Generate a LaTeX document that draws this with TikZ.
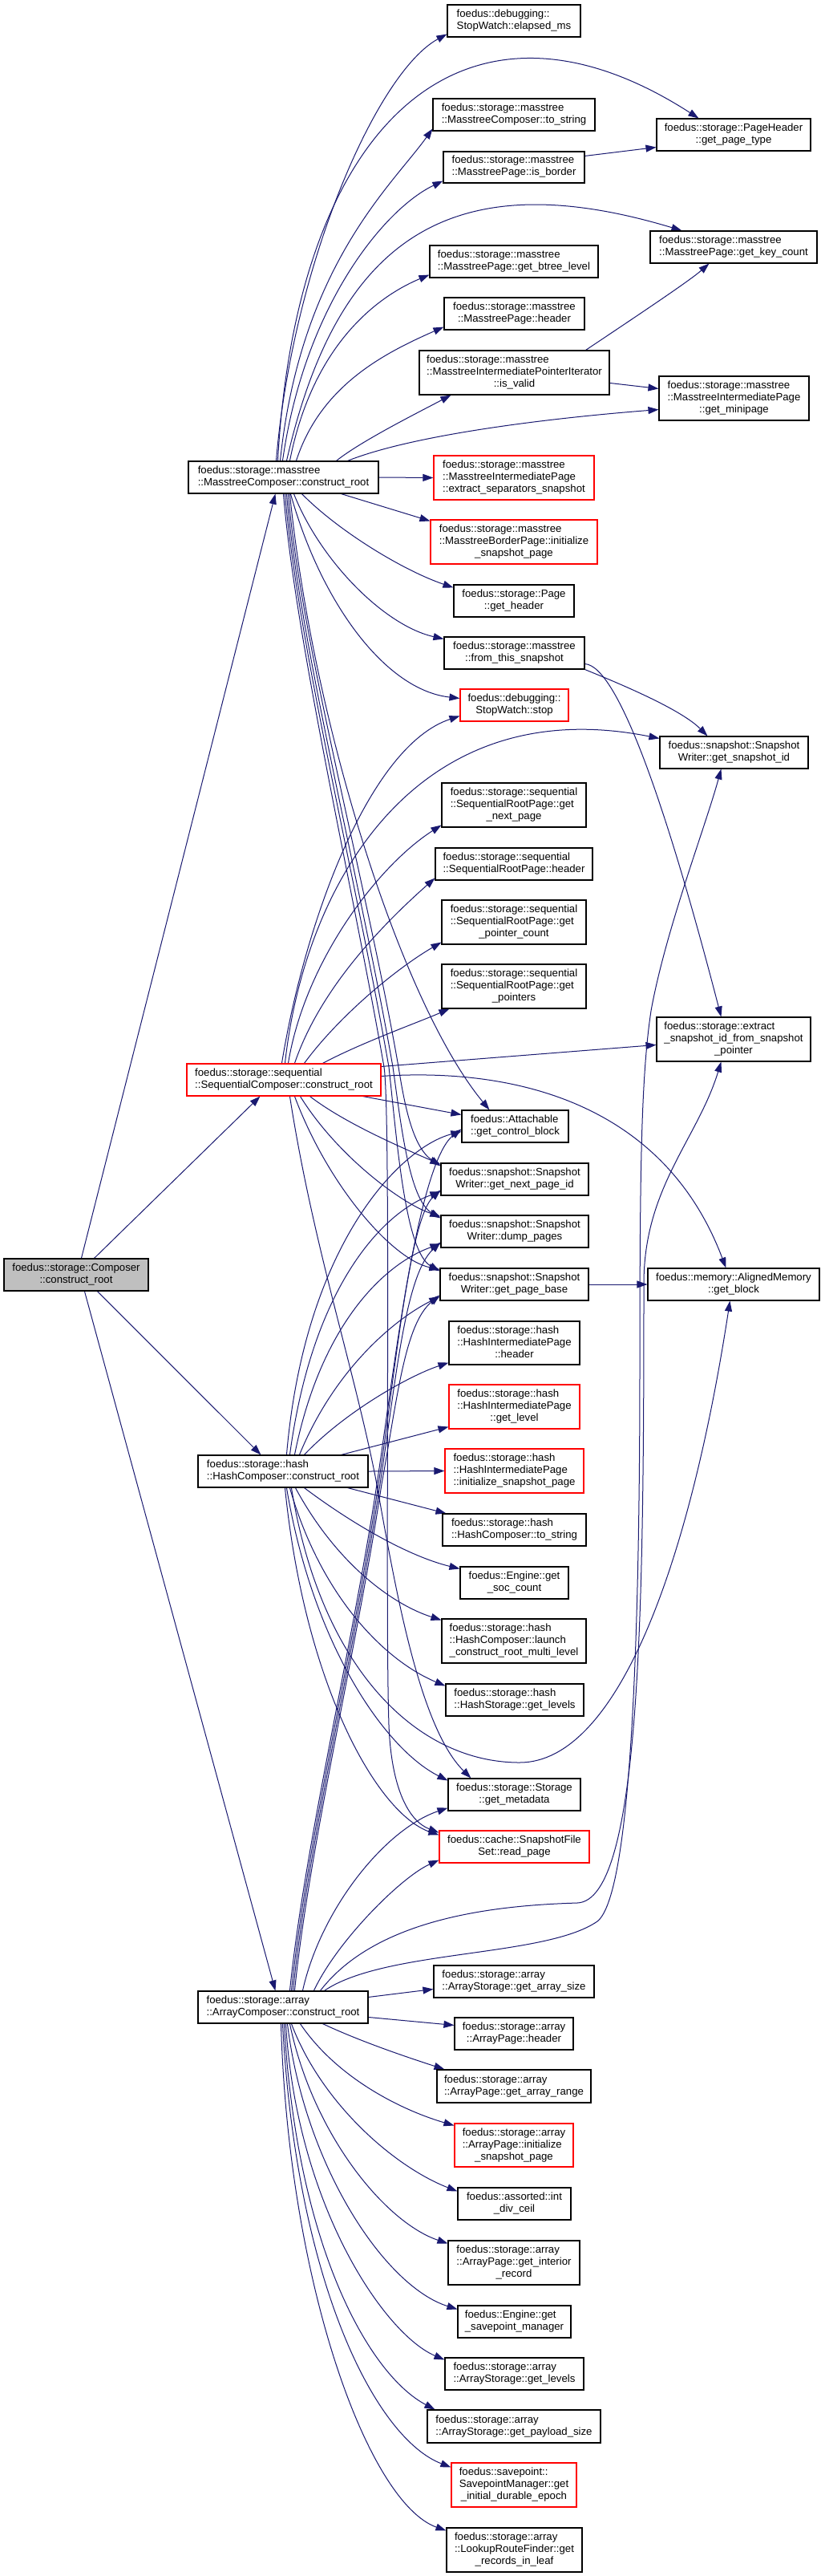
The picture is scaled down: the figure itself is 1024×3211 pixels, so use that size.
\documentclass[tikz,border=0pt]{standalone}
\usepackage{fontspec}
\setmainfont{Liberation Sans}
\usetikzlibrary{arrows.meta}
\definecolor{edgec}{RGB}{25,25,112}
\definecolor{nodered}{RGB}{255,0,0}
\definecolor{compfill}{RGB}{191,191,191}
\pgfdeclarelayer{bg}
\pgfsetlayers{bg,main}
\newcommand\twol[2]{\begin{tabular}{@{}l@{}}#1\\\multicolumn{1}{@{}c@{}}{#2}\end{tabular}}
\newcommand\thrl[3]{\begin{tabular}{@{}l@{}}#1\\#2\\\multicolumn{1}{@{}c@{}}{#3}\end{tabular}}
\newcommand\fnode[7]{\node[#6, minimum width={(#4)-(#2)}, minimum height={(#5)-(#3)}] (#1) at ({((#2)+(#4))/2},{((#3)+(#5))/2}) {#7};}
\tikzset{
 nbox/.style={draw=black, fill=white, line width=1.1pt, inner sep=0pt, font=\fontsize{13.2}{15}\selectfont},
 rbox/.style={nbox, draw=nodered},
 gbox/.style={nbox, fill=compfill},
 edge/.style={draw=edgec, line width=1pt, -{Triangle[length=13pt,width=9pt]}},
}
\begin{document}
\begin{tikzpicture}[x=1pt,y=-1pt]
\useasboundingbox (0,0) rectangle (1024,3211);
\begin{pgfonlayer}{bg}
\fill[white] (0,0) rectangle (1024,3211);
\end{pgfonlayer}
% nodes
\fnode{E}{558}{6}{724}{46}{nbox}{\twol{foedus::debugging::}{StopWatch::elapsed\_ms}}
\fnode{T}{540}{123}{742}{163}{nbox}{\twol{foedus::storage::masstree}{::MasstreeComposer::to\_string}}
\fnode{PH}{819}{148}{1011}{188}{nbox}{\twol{foedus::storage::PageHeader}{::get\_page\_type}}
\fnode{B}{553}{189}{729}{228}{nbox}{\twol{foedus::storage::masstree}{::MasstreePage::is\_border}}
\fnode{KC}{811}{288}{1019}{328}{nbox}{\twol{foedus::storage::masstree}{::MasstreePage::get\_key\_count}}
\fnode{BL}{536}{306}{746}{346}{nbox}{\twol{foedus::storage::masstree}{::MasstreePage::get\_btree\_level}}
\fnode{MH}{554}{371}{729}{411}{nbox}{\twol{foedus::storage::masstree}{::MasstreePage::header}}
\fnode{V}{523}{437}{760}{492}{nbox}{\thrl{foedus::storage::masstree}{::MasstreeIntermediatePointerIterator}{::is\_valid}}
\fnode{MP}{822}{469}{1009}{524}{nbox}{\thrl{foedus::storage::masstree}{::MasstreeIntermediatePage}{::get\_minipage}}
\fnode{M}{235}{575}{472}{615}{nbox}{\twol{foedus::storage::masstree}{::MasstreeComposer::construct\_root}}
\fnode{XS}{541}{568}{741}{623}{rbox}{\thrl{foedus::storage::masstree}{::MasstreeIntermediatePage}{::extract\_separators\_snapshot}}
\fnode{IB}{537}{648}{745}{703}{rbox}{\thrl{foedus::storage::masstree}{::MasstreeBorderPage::initialize}{\_snapshot\_page}}
\fnode{GH}{566}{729}{716}{769}{nbox}{\twol{foedus::storage::Page}{::get\_header}}
\fnode{FS}{554}{794}{729}{834}{nbox}{\twol{foedus::storage::masstree}{::from\_this\_snapshot}}
\fnode{SW}{574}{859}{709}{899}{rbox}{\twol{foedus::debugging::}{StopWatch::stop}}
\fnode{SI}{823}{918}{1008}{958}{nbox}{\twol{foedus::snapshot::Snapshot}{Writer::get\_snapshot\_id}}
\fnode{SN}{551}{976}{731}{1031}{nbox}{\thrl{foedus::storage::sequential}{::SequentialRootPage::get}{\_next\_page}}
\fnode{SH}{543}{1057}{739}{1097}{nbox}{\twol{foedus::storage::sequential}{::SequentialRootPage::header}}
\fnode{PC}{551}{1122}{731}{1177}{nbox}{\thrl{foedus::storage::sequential}{::SequentialRootPage::get}{\_pointer\_count}}
\fnode{PT}{551}{1202}{731}{1257}{nbox}{\thrl{foedus::storage::sequential}{::SequentialRootPage::get}{\_pointers}}
\fnode{XI}{819}{1268}{1011}{1323}{nbox}{\thrl{foedus::storage::extract}{\_snapshot\_id\_from\_snapshot}{\_pointer}}
\fnode{S}{233}{1326}{475}{1366}{rbox}{\twol{foedus::storage::sequential}{::SequentialComposer::construct\_root}}
\fnode{CB}{576}{1384}{709}{1424}{nbox}{\twol{foedus::Attachable}{::get\_control\_block}}
\fnode{NP}{550}{1450}{734}{1490}{nbox}{\twol{foedus::snapshot::Snapshot}{Writer::get\_next\_page\_id}}
\fnode{DP}{550}{1515}{734}{1555}{nbox}{\twol{foedus::snapshot::Snapshot}{Writer::dump\_pages}}
\fnode{PB}{549}{1581}{734}{1621}{nbox}{\twol{foedus::snapshot::Snapshot}{Writer::get\_page\_base}}
\fnode{GB}{808}{1581}{1022}{1621}{nbox}{\twol{foedus::memory::AlignedMemory}{::get\_block}}
\fnode{C}{5}{1569}{185}{1609}{gbox}{\twol{foedus::storage::Composer}{::construct\_root}}
\fnode{HH}{560}{1647}{723}{1701}{nbox}{\thrl{foedus::storage::hash}{::HashIntermediatePage}{::header}}
\fnode{HL}{560}{1726}{723}{1781}{rbox}{\thrl{foedus::storage::hash}{::HashIntermediatePage}{::get\_level}}
\fnode{HI}{555}{1806}{728}{1861}{rbox}{\thrl{foedus::storage::hash}{::HashIntermediatePage}{::initialize\_snapshot\_page}}
\fnode{H}{247}{1814}{459}{1854}{nbox}{\twol{foedus::storage::hash}{::HashComposer::construct\_root}}
\fnode{HT}{552}{1887}{731}{1927}{nbox}{\twol{foedus::storage::hash}{::HashComposer::to\_string}}
\fnode{SC}{574}{1953}{709}{1993}{nbox}{\twol{foedus::Engine::get}{\_soc\_count}}
\fnode{LR}{551}{2018}{731}{2073}{nbox}{\thrl{foedus::storage::hash}{::HashComposer::launch}{\_construct\_root\_multi\_level}}
\fnode{HG}{556}{2099}{728}{2139}{nbox}{\twol{foedus::storage::hash}{::HashStorage::get\_levels}}
\fnode{MD}{559}{2217}{724}{2257}{nbox}{\twol{foedus::storage::Storage}{::get\_metadata}}
\fnode{RP}{548}{2282}{735}{2322}{rbox}{\twol{foedus::cache::SnapshotFile}{Set::read\_page}}
\fnode{AS}{541}{2450}{741}{2490}{nbox}{\twol{foedus::storage::array}{::ArrayStorage::get\_array\_size}}
\fnode{A}{247}{2482}{459}{2522}{nbox}{\twol{foedus::storage::array}{::ArrayComposer::construct\_root}}
\fnode{AH}{567}{2515}{715}{2555}{nbox}{\twol{foedus::storage::array}{::ArrayPage::header}}
\fnode{AR}{545}{2580}{737}{2621}{nbox}{\twol{foedus::storage::array}{::ArrayPage::get\_array\_range}}
\fnode{AI}{567}{2647}{715}{2701}{rbox}{\thrl{foedus::storage::array}{::ArrayPage::initialize}{\_snapshot\_page}}
\fnode{DC}{571}{2727}{712}{2767}{nbox}{\twol{foedus::assorted::int}{\_div\_ceil}}
\fnode{IR}{559}{2793}{723}{2848}{nbox}{\thrl{foedus::storage::array}{::ArrayPage::get\_interior}{\_record}}
\fnode{SM}{571}{2874}{712}{2914}{nbox}{\twol{foedus::Engine::get}{\_savepoint\_manager}}
\fnode{AL}{555}{2939}{728}{2979}{nbox}{\twol{foedus::storage::array}{::ArrayStorage::get\_levels}}
\fnode{PS}{533}{3004}{749}{3045}{nbox}{\twol{foedus::storage::array}{::ArrayStorage::get\_payload\_size}}
\fnode{DE}{563}{3070}{719}{3125}{rbox}{\thrl{foedus::savepoint::}{SavepointManager::get}{\_initial\_durable\_epoch}}
\fnode{RL}{557}{3151}{726}{3206}{nbox}{\thrl{foedus::storage::array}{::LookupRouteFinder::get}{\_records\_in\_leaf}}
% edges
\begin{pgfonlayer}{bg}
% Composer
\draw[edge] ([shift={(97,0)}]C.north west) -- ([shift={(109,0)}]M.south west);
\draw[edge] ([shift={(113,0)}]C.north west) -- ([shift={(92,0)}]S.south west);
\draw[edge] ([shift={(117,0)}]C.south west) -- ([shift={(79,0)}]H.north west);
\draw[edge] ([shift={(101,0)}]C.south west) -- ([shift={(97,0)}]A.north west);
% Masstree top
\draw[edge] ([shift={(110,0)}]M.north west) .. controls (365,330) and (470,90) .. ([shift={(0,-4)}]E.south west);
\draw[edge] ([shift={(112,0)}]M.north west) .. controls (370,150) and (580,-40) .. ([shift={(53,0)}]PH.north west);
\draw[edge] ([shift={(115,0)}]M.north west) .. controls (375,330) and (490,230) .. ([shift={(0,-3)}]T.south west);
\draw[edge] ([shift={(118,0)}]M.north west) .. controls (380,380) and (480,260) .. ([shift={(0,-3)}]B.south west);
\draw[edge] ([shift={(123,0)}]M.north west) .. controls (420,300) and (560,200) .. ([shift={(40,0)}]KC.north west);
\draw[edge] ([shift={(127,0)}]M.north west) .. controls (390,430) and (470,370) .. ([shift={(0,-4)}]BL.south west);
\draw[edge] ([shift={(135,0)}]M.north west) .. controls (400,480) and (480,440) .. ([shift={(0,-4)}]MH.south west);
\draw[edge] ([shift={(185,0)}]M.north west) .. controls (450,550) and (520,515) .. ([shift={(40,0)}]V.south west);
\draw[edge] ([shift={(199,0)}]M.north west) .. controls (520,540) and (700,520) .. ([shift={(0,-14)}]MP.south west);
% Masstree right / bottom
\draw[edge] (M.east) -- (XS.west);
\draw[edge] ([shift={(191,0)}]M.south west) -- ([shift={(0,2)}]IB.north west);
\draw[edge] ([shift={(142,0)}]M.south west) .. controls (420,660) and (500,710) .. ([shift={(0,4)}]GH.north west);
\draw[edge] ([shift={(132,0)}]M.south west) .. controls (400,700) and (480,780) .. ([shift={(0,3)}]FS.north west);
\draw[edge] ([shift={(128,0)}]M.south west) .. controls (400,750) and (480,860) .. ([shift={(0,12)}]SW.north west);
\draw[edge] ([shift={(127,0)}]M.south west) .. controls (390,900) and (500,1250) .. ([shift={(35,0)}]CB.north west);
\draw[edge] ([shift={(125,0)}]M.south west) .. controls (375,800) and (457,1100) .. (497,1330) .. controls (505,1380) and (515,1430) .. ([shift={(0,4)}]NP.north west);
\draw[edge] ([shift={(123,0)}]M.south west) .. controls (373,800) and (450,1100) .. (490,1330) .. controls (500,1400) and (510,1495) .. ([shift={(0,4)}]DP.north west);
\draw[edge] ([shift={(121,0)}]M.south west) .. controls (371,800) and (445,1100) .. (485,1330) .. controls (495,1420) and (505,1560) .. ([shift={(0,4)}]PB.north west);
\draw[edge] ([shift={(119,0)}]M.south west) .. controls (369,800) and (439,1100) .. (479,1330) .. controls (488,1390) and (480,2000) .. (485,2150) .. controls (488,2230) and (510,2270) .. ([shift={(0,3)}]RP.north west);
\draw[edge] ([shift={(0,6)}]B.north east) -- ([shift={(0,-5)}]PH.south west);
\draw[edge] ([shift={(-30,0)}]V.north east) .. controls (800,390) and (860,350) .. ([shift={(74,0)}]KC.south west);
\draw[edge] ([shift={(0,41)}]V.north east) -- ([shift={(0,16)}]MP.north west);
\draw[edge] (FS.south east) .. controls (780,855) and (850,885) .. ([shift={(60,0)}]SI.north west);
\draw[edge] ([shift={(0,-7)}]FS.south east) .. controls (770,830) and (830,1000) .. ([shift={(81,0)}]XI.north west);
% Sequential
\draw[edge] ([shift={(127,0)}]S.north west) .. controls (380,1200) and (470,1080) .. ([shift={(0,-3)}]SN.south west);
\draw[edge] ([shift={(135,0)}]S.north west) .. controls (400,1230) and (480,1150) .. ([shift={(0,-3)}]SH.south west);
\draw[edge] ([shift={(147,0)}]S.north west) .. controls (420,1270) and (490,1210) .. ([shift={(0,-3)}]PC.south west);
\draw[edge] ([shift={(170,0)}]S.north west) .. controls (450,1300) and (520,1275) .. ([shift={(10,0)}]PT.south west);
\draw[edge] ([shift={(119,0)}]S.north west) .. controls (380,1150) and (460,930) .. ([shift={(0,34)}]SW.north west);
\draw[edge] ([shift={(123,0)}]S.north west) .. controls (380,1100) and (520,860) .. ([shift={(0,3)}]SI.north west);
\draw[edge] ([shift={(0,4)}]S.north east) -- ([shift={(0,35)}]XI.north west);
\draw[edge] ([shift={(0,16)}]S.north east) .. controls (650,1330) and (830,1380) .. ([shift={(98,0)}]GB.north west);
\draw[edge] ([shift={(220,0)}]S.south west) -- ([shift={(0,6)}]CB.north west);
\draw[edge] ([shift={(154,0)}]S.south west) .. controls (430,1400) and (500,1430) .. ([shift={(0,2)}]NP.north west);
\draw[edge] ([shift={(142,0)}]S.south west) .. controls (420,1440) and (500,1500) .. ([shift={(0,2)}]DP.north west);
\draw[edge] ([shift={(135,0)}]S.south west) .. controls (410,1480) and (490,1570) .. ([shift={(0,2)}]PB.north west);
\draw[edge] ([shift={(129,0)}]S.south west) .. controls (390,1550) and (440,1700) .. (468,1840) .. controls (490,1960) and (520,2150) .. ([shift={(29,0)}]MD.north west);
\draw[edge] (PB.east) -- (GB.west);
% Hash
\draw[edge] ([shift={(111,0)}]H.north west) .. controls (380,1550) and (500,1430) .. ([shift={(0,27)}]CB.north west);
\draw[edge] ([shift={(115,0)}]H.north west) .. controls (390,1600) and (480,1510) .. ([shift={(0,36)}]NP.north west);
\draw[edge] ([shift={(121,0)}]H.north west) .. controls (400,1650) and (480,1575) .. ([shift={(0,36)}]DP.north west);
\draw[edge] ([shift={(127,0)}]H.north west) .. controls (420,1700) and (500,1640) .. ([shift={(0,36)}]PB.north west);
\draw[edge] ([shift={(133,0)}]H.north west) .. controls (430,1760) and (510,1715) .. ([shift={(0,-3)}]HH.south west);
\draw[edge] ([shift={(179,0)}]H.north west) -- ([shift={(0,-3)}]HL.south west);
\draw[edge] (H.east) -- (HI.west);
\draw[edge] ([shift={(187,0)}]H.south west) -- ([shift={(5,0)}]HT.north west);
\draw[edge] ([shift={(133,0)}]H.south west) .. controls (440,1900) and (510,1940) .. ([shift={(0,3)}]SC.north west);
\draw[edge] ([shift={(122,0)}]H.south west) .. controls (420,1950) and (490,2000) .. ([shift={(0,2)}]LR.north west);
\draw[edge] ([shift={(115,0)}]H.south west) .. controls (400,1990) and (480,2070) .. ([shift={(0,3)}]HG.north west);
\draw[edge] ([shift={(117,0)}]H.south west) .. controls (400,2080) and (520,2197) .. (648,2197) .. controls (770,2197) and (860,1950) .. ([shift={(103,0)}]GB.south west);
\draw[edge] ([shift={(111,0)}]H.south west) .. controls (390,2050) and (480,2180) .. ([shift={(0,3)}]MD.north west);
\draw[edge] ([shift={(109,0)}]H.south west) .. controls (380,2100) and (470,2260) .. ([shift={(0,6)}]RP.north west);
% Array
\draw[edge] ([shift={(115,0)}]A.north west) .. controls (380,2300) and (440,2050) .. (470,1850) .. controls (490,1720) and (520,1450) .. ([shift={(0,24)}]CB.north west);
\draw[edge] ([shift={(117,0)}]A.north west) .. controls (382,2300) and (442,2050) .. (472,1850) .. controls (492,1720) and (510,1520) .. ([shift={(0,34)}]NP.north west);
\draw[edge] ([shift={(119,0)}]A.north west) .. controls (384,2300) and (444,2050) .. (474,1850) .. controls (494,1720) and (505,1590) .. ([shift={(0,34)}]DP.north west);
\draw[edge] ([shift={(121,0)}]A.north west) .. controls (386,2300) and (446,2050) .. (476,1850) .. controls (496,1740) and (505,1650) .. ([shift={(0,34)}]PB.north west);
\draw[edge] ([shift={(131,0)}]A.north west) .. controls (400,2380) and (480,2280) .. ([shift={(0,-4)}]MD.south west);
\draw[edge] ([shift={(145,0)}]A.north west) .. controls (420,2420) and (500,2340) .. ([shift={(0,-4)}]RP.south west);
\draw[edge] ([shift={(153,0)}]A.north west) .. controls (470,2390) and (620,2375) .. (720,2372) .. controls (800,2369) and (803,2000) .. (803,1600) .. controls (803,1480) and (870,1420) .. ([shift={(81,0)}]XI.south west);
\draw[edge] ([shift={(158,0)}]A.north west) .. controls (480,2430) and (680,2440) .. (745,2395) .. controls (790,2360) and (798,2000) .. (798,1700) .. controls (798,1450) and (800,1340) .. (812,1260) .. controls (830,1160) and (880,1030) .. ([shift={(77,0)}]SI.south west);
\draw[edge] ([shift={(0,8)}]A.north east) -- ([shift={(0,30)}]AS.north west);
\draw[edge] ([shift={(0,33)}]A.north east) -- ([shift={(0,10)}]AH.north west);
\draw[edge] ([shift={(156,0)}]A.south west) .. controls (450,2545) and (510,2565) .. ([shift={(10,0)}]AR.north west);
\draw[edge] ([shift={(128,0)}]A.south west) .. controls (420,2590) and (500,2630) .. ([shift={(0,3)}]AI.north west);
\draw[edge] ([shift={(117,0)}]A.south west) .. controls (400,2620) and (490,2700) .. ([shift={(0,5)}]DC.north west);
\draw[edge] ([shift={(115,0)}]A.south west) .. controls (390,2660) and (480,2770) .. ([shift={(0,4)}]IR.north west);
\draw[edge] ([shift={(112,0)}]A.south west) .. controls (380,2700) and (480,2850) .. ([shift={(0,5)}]SM.north west);
\draw[edge] ([shift={(110,0)}]A.south west) .. controls (370,2750) and (480,2910) .. ([shift={(0,3)}]AL.north west);
\draw[edge] ([shift={(108,0)}]A.south west) .. controls (370,2800) and (460,2960) .. ([shift={(10,0)}]PS.north west);
\draw[edge] ([shift={(106,0)}]A.south west) .. controls (370,2850) and (470,3040) .. ([shift={(0,6)}]DE.north west);
\draw[edge] ([shift={(104,0)}]A.south west) .. controls (360,2850) and (460,3120) .. ([shift={(0,4)}]RL.north west);
\end{pgfonlayer}
\end{tikzpicture}
\end{document}
